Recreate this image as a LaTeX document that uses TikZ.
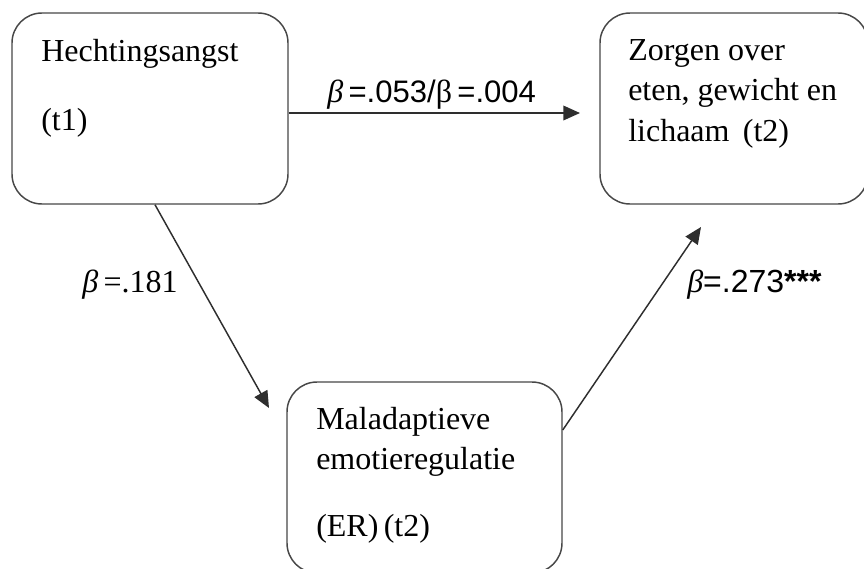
\documentclass[tikz,border=0pt]{standalone}
\usepackage{fontspec}
\setmainfont{Liberation Serif}
\newfontfamily\labsans{Liberation Sans}
\usetikzlibrary{arrows.meta,calc}

\tikzset{
  box/.style={draw=black!72, line width=1.1pt, rounded corners=22.5pt,
    inner sep=0pt},
  txt/.style={anchor=base west, inner sep=0pt,
    font=\fontsize{24}{30.4}\selectfont},
  coef/.style={anchor=base west, inner sep=0pt},
  arr/.style={draw=black!82, line width=1.1pt,
    -{Triangle[length=12.5pt,width=11pt]}}
}

\newcommand\boxtext[1]{\parbox[t]{200pt}{\raggedright #1}}

\begin{document}
\begin{tikzpicture}[x=0.75pt,y=-0.75pt]
  \useasboundingbox (0,0) rectangle (864,568);
  \clip (0,0) rectangle (864,568);

  % boxes
  \node[box, minimum width=207pt, minimum height=143.25pt] (A) at (150,108.5) {};
  \node[box, minimum width=201pt, minimum height=143.25pt] (B) at (734,108.5) {};
  \node[box, minimum width=206.25pt, minimum height=143.25pt] (C) at (424.5,477.5) {};

  % box texts
  \node[txt] (Atext) at (41,61) {\boxtext{Hechtingsangst\\[21.4pt](t1)}};
  \node[txt] (Btext) at (628,60) {\boxtext{Zorgen over\\eten, gewicht en\\lichaam\ \,(t2)}};
  \node[txt] (Ctext) at (316,429) {\boxtext{Maladaptieve\\emotieregulatie\\[19.6pt](ER)\,(t2)}};

  % arrow ends
  \coordinate (tipB) at (580,113);
  \coordinate (tipC) at (269,408);
  \coordinate (tipB2) at (701,227);

  % paths
  \draw[arr] ($(A.east)+(0,4.5)$) -- (tipB);
  \draw[arr] ($(A.south)+(5,0)$) -- (tipC);
  \draw[arr] ($(C.east)+(0,-47.5)$) -- (tipB2);

  % coefficients
  \node[coef] (L1) at (327,102)
    {\fontsize{24}{28}\selectfont\textit{β}\,{\labsans\fontsize{23.3}{26}\selectfont =.053/}β\,{\labsans\fontsize{23.3}{26}\selectfont =.004}};
  \node[coef] (L2) at (82,292)
    {\fontsize{24}{28}\selectfont\textit{β}\,=.181};
  \node[coef] (L3) at (687,292)
    {\fontsize{24}{28}\selectfont\textit{β}{\labsans\fontsize{24}{26}\selectfont =.273{\bfseries ***}}};
\end{tikzpicture}
\end{document}
